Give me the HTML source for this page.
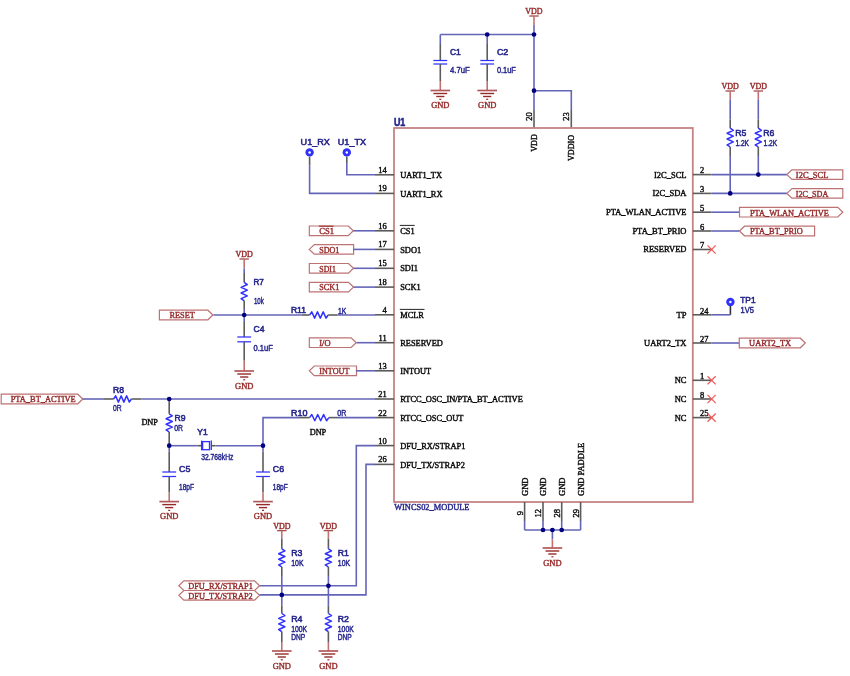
<!DOCTYPE html>
<html><head><meta charset="utf-8"><style>
html,body{margin:0;padding:0;background:#fff;width:850px;height:676px;overflow:hidden}
svg{display:block;will-change:transform}
</style></head><body>
<svg width="850" height="676" viewBox="0 0 850 676">
<rect width="850" height="676" fill="#ffffff"/>
<line x1="529.3" y1="16" x2="538.7" y2="16" stroke="#962a2a" stroke-width="1.1"/>
<text x="534" y="14.1" font-family='"Liberation Serif", serif' font-size="8.2" fill="#962a2a" stroke="#962a2a" stroke-width="0.4" text-anchor="middle" textLength="17.3" lengthAdjust="spacingAndGlyphs">VDD</text>
<line x1="534" y1="16" x2="534" y2="25" stroke="#c07272" stroke-width="1.6"/>
<line x1="534" y1="25" x2="534" y2="110" stroke="#6464b8" stroke-width="1.6"/>
<line x1="440.3" y1="34.5" x2="534" y2="34.5" stroke="#6464b8" stroke-width="1.6"/>
<line x1="440.3" y1="34.5" x2="440.3" y2="44" stroke="#6464b8" stroke-width="1.6"/>
<line x1="440.3" y1="44" x2="440.3" y2="60.5" stroke="#5c5c5c" stroke-width="1.6"/>
<line x1="433.4" y1="60.5" x2="447.2" y2="60.5" stroke="#3030ff" stroke-width="1.25"/>
<line x1="433.4" y1="64" x2="447.2" y2="64" stroke="#3030ff" stroke-width="1.25"/>
<line x1="440.3" y1="64" x2="440.3" y2="81" stroke="#5c5c5c" stroke-width="1.6"/>
<line x1="440.3" y1="81" x2="440.3" y2="90.5" stroke="#c07272" stroke-width="1.6"/>
<line x1="430.5" y1="90.5" x2="450.1" y2="90.5" stroke="#b35858" stroke-width="1.7"/>
<line x1="433.4" y1="93.5" x2="447.2" y2="93.5" stroke="#962a2a" stroke-width="1.4"/>
<line x1="436.2" y1="96.5" x2="444.4" y2="96.5" stroke="#962a2a" stroke-width="1.4"/>
<line x1="439.3" y1="99.3" x2="441.3" y2="99.3" stroke="#962a2a" stroke-width="1.2"/>
<text x="440.3" y="108" font-family='"Liberation Serif", serif' font-size="8.5" fill="#962a2a" stroke="#962a2a" stroke-width="0.4" text-anchor="middle" textLength="18.3" lengthAdjust="spacingAndGlyphs">GND</text>
<text x="450" y="54.9" font-family='"Liberation Sans", sans-serif' font-size="8.8" fill="#24248c" stroke="#24248c" stroke-width="0.55" textLength="10.8" lengthAdjust="spacingAndGlyphs">C1</text>
<text x="450" y="73.4" font-family='"Liberation Sans", sans-serif' font-size="8.3" fill="#24248c" stroke="#24248c" stroke-width="0.42" textLength="19.8" lengthAdjust="spacingAndGlyphs">4.7uF</text>
<line x1="487.2" y1="34.5" x2="487.2" y2="44" stroke="#6464b8" stroke-width="1.6"/>
<line x1="487.2" y1="44" x2="487.2" y2="60.5" stroke="#5c5c5c" stroke-width="1.6"/>
<line x1="480.3" y1="60.5" x2="494.1" y2="60.5" stroke="#3030ff" stroke-width="1.25"/>
<line x1="480.3" y1="64" x2="494.1" y2="64" stroke="#3030ff" stroke-width="1.25"/>
<line x1="487.2" y1="64" x2="487.2" y2="81" stroke="#5c5c5c" stroke-width="1.6"/>
<line x1="487.2" y1="81" x2="487.2" y2="90.5" stroke="#c07272" stroke-width="1.6"/>
<line x1="477.4" y1="90.5" x2="497" y2="90.5" stroke="#b35858" stroke-width="1.7"/>
<line x1="480.3" y1="93.5" x2="494.1" y2="93.5" stroke="#962a2a" stroke-width="1.4"/>
<line x1="483.1" y1="96.5" x2="491.3" y2="96.5" stroke="#962a2a" stroke-width="1.4"/>
<line x1="486.2" y1="99.3" x2="488.2" y2="99.3" stroke="#962a2a" stroke-width="1.2"/>
<text x="487.2" y="108" font-family='"Liberation Serif", serif' font-size="8.5" fill="#962a2a" stroke="#962a2a" stroke-width="0.4" text-anchor="middle" textLength="18.3" lengthAdjust="spacingAndGlyphs">GND</text>
<text x="496.9" y="54.9" font-family='"Liberation Sans", sans-serif' font-size="8.8" fill="#24248c" stroke="#24248c" stroke-width="0.55" textLength="11.4" lengthAdjust="spacingAndGlyphs">C2</text>
<text x="496.9" y="73.4" font-family='"Liberation Sans", sans-serif' font-size="8.3" fill="#24248c" stroke="#24248c" stroke-width="0.42" textLength="19" lengthAdjust="spacingAndGlyphs">0.1uF</text>
<polyline points="534,90.7 571.3,90.7 571.3,110" fill="none" stroke="#6464b8" stroke-width="1.6"/>
<line x1="534" y1="110" x2="534" y2="128" stroke="#5c5c5c" stroke-width="1.6"/>
<line x1="571.3" y1="110" x2="571.3" y2="128" stroke="#5c5c5c" stroke-width="1.6"/>
<text x="532" y="116.4" font-family='"Liberation Serif", serif' font-size="8.5" fill="#0a0a0a" stroke="#0a0a0a" stroke-width="0.4" text-anchor="middle" transform="rotate(-90 532 116.4)">20</text>
<text x="569.3" y="116.4" font-family='"Liberation Serif", serif' font-size="8.5" fill="#0a0a0a" stroke="#0a0a0a" stroke-width="0.4" text-anchor="middle" transform="rotate(-90 569.3 116.4)">23</text>
<text x="537" y="143" font-family='"Liberation Serif", serif' font-size="8.5" fill="#0a0a0a" stroke="#0a0a0a" stroke-width="0.4" text-anchor="middle" textLength="17.7" lengthAdjust="spacingAndGlyphs" transform="rotate(-90 537 143)">VDD</text>
<text x="574.3" y="148" font-family='"Liberation Serif", serif' font-size="8.5" fill="#0a0a0a" stroke="#0a0a0a" stroke-width="0.4" text-anchor="middle" textLength="26" lengthAdjust="spacingAndGlyphs" transform="rotate(-90 574.3 148)">VDDIO</text>
<rect x="394" y="128" width="298.8" height="374" fill="none" stroke="#c58484" stroke-width="1.8"/>
<text x="393.9" y="126" font-family='"Liberation Sans", sans-serif' font-size="10.5" fill="#24248c" stroke="#24248c" stroke-width="0.55" textLength="11.4" lengthAdjust="spacingAndGlyphs" font-weight="bold">U1</text>
<text x="394.2" y="509.7" font-family='"Liberation Serif", serif' font-size="8.5" fill="#24248c" stroke="#24248c" stroke-width="0.4" textLength="75.3" lengthAdjust="spacingAndGlyphs">WINCS02_MODULE</text>
<line x1="375" y1="174.8" x2="394" y2="174.8" stroke="#5c5c5c" stroke-width="1.6"/>
<text x="386.7" y="172.8" font-family='"Liberation Serif", serif' font-size="8.5" fill="#0a0a0a" stroke="#0a0a0a" stroke-width="0.4" text-anchor="end">14</text>
<text x="400.2" y="177.9" font-family='"Liberation Serif", serif' font-size="8.4" fill="#0a0a0a" stroke="#0a0a0a" stroke-width="0.4">UART1_TX</text>
<line x1="375" y1="193.4" x2="394" y2="193.4" stroke="#5c5c5c" stroke-width="1.6"/>
<text x="386.7" y="191.4" font-family='"Liberation Serif", serif' font-size="8.5" fill="#0a0a0a" stroke="#0a0a0a" stroke-width="0.4" text-anchor="end">19</text>
<text x="400.2" y="196.5" font-family='"Liberation Serif", serif' font-size="8.4" fill="#0a0a0a" stroke="#0a0a0a" stroke-width="0.4">UART1_RX</text>
<line x1="375" y1="230.8" x2="394" y2="230.8" stroke="#5c5c5c" stroke-width="1.6"/>
<text x="386.7" y="228.8" font-family='"Liberation Serif", serif' font-size="8.5" fill="#0a0a0a" stroke="#0a0a0a" stroke-width="0.4" text-anchor="end">16</text>
<text x="400.2" y="233.9" font-family='"Liberation Serif", serif' font-size="8.4" fill="#0a0a0a" stroke="#0a0a0a" stroke-width="0.4">CS1</text>
<line x1="399.8" y1="225.4" x2="414.7" y2="225.4" stroke="#0a0a0a" stroke-width="0.9"/>
<line x1="375" y1="249.4" x2="394" y2="249.4" stroke="#5c5c5c" stroke-width="1.6"/>
<text x="386.7" y="247.4" font-family='"Liberation Serif", serif' font-size="8.5" fill="#0a0a0a" stroke="#0a0a0a" stroke-width="0.4" text-anchor="end">17</text>
<text x="400.2" y="252.5" font-family='"Liberation Serif", serif' font-size="8.4" fill="#0a0a0a" stroke="#0a0a0a" stroke-width="0.4">SDO1</text>
<line x1="375" y1="268.3" x2="394" y2="268.3" stroke="#5c5c5c" stroke-width="1.6"/>
<text x="386.7" y="266.3" font-family='"Liberation Serif", serif' font-size="8.5" fill="#0a0a0a" stroke="#0a0a0a" stroke-width="0.4" text-anchor="end">15</text>
<text x="400.2" y="271.4" font-family='"Liberation Serif", serif' font-size="8.4" fill="#0a0a0a" stroke="#0a0a0a" stroke-width="0.4">SDI1</text>
<line x1="375" y1="287.1" x2="394" y2="287.1" stroke="#5c5c5c" stroke-width="1.6"/>
<text x="386.7" y="285.1" font-family='"Liberation Serif", serif' font-size="8.5" fill="#0a0a0a" stroke="#0a0a0a" stroke-width="0.4" text-anchor="end">18</text>
<text x="400.2" y="290.2" font-family='"Liberation Serif", serif' font-size="8.4" fill="#0a0a0a" stroke="#0a0a0a" stroke-width="0.4">SCK1</text>
<line x1="375" y1="314.8" x2="394" y2="314.8" stroke="#5c5c5c" stroke-width="1.6"/>
<text x="386.7" y="312.8" font-family='"Liberation Serif", serif' font-size="8.5" fill="#0a0a0a" stroke="#0a0a0a" stroke-width="0.4" text-anchor="end">4</text>
<text x="400.2" y="317.9" font-family='"Liberation Serif", serif' font-size="8.4" fill="#0a0a0a" stroke="#0a0a0a" stroke-width="0.4">MCLR</text>
<line x1="399.8" y1="309.4" x2="424.5" y2="309.4" stroke="#0a0a0a" stroke-width="0.9"/>
<line x1="375" y1="342.7" x2="394" y2="342.7" stroke="#5c5c5c" stroke-width="1.6"/>
<text x="386.7" y="340.7" font-family='"Liberation Serif", serif' font-size="8.5" fill="#0a0a0a" stroke="#0a0a0a" stroke-width="0.4" text-anchor="end">11</text>
<text x="400.2" y="345.8" font-family='"Liberation Serif", serif' font-size="8.4" fill="#0a0a0a" stroke="#0a0a0a" stroke-width="0.4">RESERVED</text>
<line x1="375" y1="370.8" x2="394" y2="370.8" stroke="#5c5c5c" stroke-width="1.6"/>
<text x="386.7" y="368.8" font-family='"Liberation Serif", serif' font-size="8.5" fill="#0a0a0a" stroke="#0a0a0a" stroke-width="0.4" text-anchor="end">13</text>
<text x="400.2" y="373.9" font-family='"Liberation Serif", serif' font-size="8.4" fill="#0a0a0a" stroke="#0a0a0a" stroke-width="0.4">INTOUT</text>
<line x1="375" y1="399" x2="394" y2="399" stroke="#5c5c5c" stroke-width="1.6"/>
<text x="386.7" y="397" font-family='"Liberation Serif", serif' font-size="8.5" fill="#0a0a0a" stroke="#0a0a0a" stroke-width="0.4" text-anchor="end">21</text>
<text x="400.2" y="402.1" font-family='"Liberation Serif", serif' font-size="8.4" fill="#0a0a0a" stroke="#0a0a0a" stroke-width="0.4" textLength="122.6" lengthAdjust="spacingAndGlyphs">RTCC_OSC_IN/PTA_BT_ACTIVE</text>
<line x1="375" y1="417.6" x2="394" y2="417.6" stroke="#5c5c5c" stroke-width="1.6"/>
<text x="386.7" y="415.6" font-family='"Liberation Serif", serif' font-size="8.5" fill="#0a0a0a" stroke="#0a0a0a" stroke-width="0.4" text-anchor="end">22</text>
<text x="400.2" y="420.7" font-family='"Liberation Serif", serif' font-size="8.4" fill="#0a0a0a" stroke="#0a0a0a" stroke-width="0.4">RTCC_OSC_OUT</text>
<line x1="375" y1="445.6" x2="394" y2="445.6" stroke="#5c5c5c" stroke-width="1.6"/>
<text x="386.7" y="443.6" font-family='"Liberation Serif", serif' font-size="8.5" fill="#0a0a0a" stroke="#0a0a0a" stroke-width="0.4" text-anchor="end">10</text>
<text x="400.2" y="448.7" font-family='"Liberation Serif", serif' font-size="8.4" fill="#0a0a0a" stroke="#0a0a0a" stroke-width="0.4">DFU_RX/STRAP1</text>
<line x1="375" y1="464.4" x2="394" y2="464.4" stroke="#5c5c5c" stroke-width="1.6"/>
<text x="386.7" y="462.4" font-family='"Liberation Serif", serif' font-size="8.5" fill="#0a0a0a" stroke="#0a0a0a" stroke-width="0.4" text-anchor="end">26</text>
<text x="400.2" y="467.5" font-family='"Liberation Serif", serif' font-size="8.4" fill="#0a0a0a" stroke="#0a0a0a" stroke-width="0.4">DFU_TX/STRAP2</text>
<line x1="692.8" y1="174.6" x2="711.6" y2="174.6" stroke="#5c5c5c" stroke-width="1.6"/>
<text x="700" y="173.3" font-family='"Liberation Serif", serif' font-size="8.5" fill="#0a0a0a" stroke="#0a0a0a" stroke-width="0.4">2</text>
<text x="686.5" y="177.5" font-family='"Liberation Serif", serif' font-size="8.5" fill="#0a0a0a" stroke="#0a0a0a" stroke-width="0.4" text-anchor="end">I2C_SCL</text>
<line x1="692.8" y1="193.4" x2="711.6" y2="193.4" stroke="#5c5c5c" stroke-width="1.6"/>
<text x="700" y="192.1" font-family='"Liberation Serif", serif' font-size="8.5" fill="#0a0a0a" stroke="#0a0a0a" stroke-width="0.4">3</text>
<text x="686.5" y="196.3" font-family='"Liberation Serif", serif' font-size="8.5" fill="#0a0a0a" stroke="#0a0a0a" stroke-width="0.4" text-anchor="end">I2C_SDA</text>
<line x1="692.8" y1="212.2" x2="711.6" y2="212.2" stroke="#5c5c5c" stroke-width="1.6"/>
<text x="700" y="210.9" font-family='"Liberation Serif", serif' font-size="8.5" fill="#0a0a0a" stroke="#0a0a0a" stroke-width="0.4">5</text>
<text x="686.5" y="215.1" font-family='"Liberation Serif", serif' font-size="8.5" fill="#0a0a0a" stroke="#0a0a0a" stroke-width="0.4" text-anchor="end">PTA_WLAN_ACTIVE</text>
<line x1="692.8" y1="231" x2="711.6" y2="231" stroke="#5c5c5c" stroke-width="1.6"/>
<text x="700" y="229.7" font-family='"Liberation Serif", serif' font-size="8.5" fill="#0a0a0a" stroke="#0a0a0a" stroke-width="0.4">6</text>
<text x="686.5" y="233.9" font-family='"Liberation Serif", serif' font-size="8.5" fill="#0a0a0a" stroke="#0a0a0a" stroke-width="0.4" text-anchor="end">PTA_BT_PRIO</text>
<line x1="692.8" y1="249.5" x2="711.6" y2="249.5" stroke="#5c5c5c" stroke-width="1.6"/>
<text x="700" y="248.2" font-family='"Liberation Serif", serif' font-size="8.5" fill="#0a0a0a" stroke="#0a0a0a" stroke-width="0.4">7</text>
<text x="686.5" y="252.4" font-family='"Liberation Serif", serif' font-size="8.5" fill="#0a0a0a" stroke="#0a0a0a" stroke-width="0.4" text-anchor="end">RESERVED</text>
<line x1="692.8" y1="314.8" x2="711.6" y2="314.8" stroke="#5c5c5c" stroke-width="1.6"/>
<text x="700" y="313.5" font-family='"Liberation Serif", serif' font-size="8.5" fill="#0a0a0a" stroke="#0a0a0a" stroke-width="0.4">24</text>
<text x="686.5" y="317.7" font-family='"Liberation Serif", serif' font-size="8.5" fill="#0a0a0a" stroke="#0a0a0a" stroke-width="0.4" text-anchor="end">TP</text>
<line x1="692.8" y1="343" x2="711.6" y2="343" stroke="#5c5c5c" stroke-width="1.6"/>
<text x="700" y="341.7" font-family='"Liberation Serif", serif' font-size="8.5" fill="#0a0a0a" stroke="#0a0a0a" stroke-width="0.4">27</text>
<text x="686.5" y="345.9" font-family='"Liberation Serif", serif' font-size="8.5" fill="#0a0a0a" stroke="#0a0a0a" stroke-width="0.4" text-anchor="end">UART2_TX</text>
<line x1="692.8" y1="380.3" x2="711.6" y2="380.3" stroke="#5c5c5c" stroke-width="1.6"/>
<text x="700" y="379" font-family='"Liberation Serif", serif' font-size="8.5" fill="#0a0a0a" stroke="#0a0a0a" stroke-width="0.4">1</text>
<text x="686.5" y="383.2" font-family='"Liberation Serif", serif' font-size="8.5" fill="#0a0a0a" stroke="#0a0a0a" stroke-width="0.4" text-anchor="end">NC</text>
<line x1="692.8" y1="399" x2="711.6" y2="399" stroke="#5c5c5c" stroke-width="1.6"/>
<text x="700" y="397.7" font-family='"Liberation Serif", serif' font-size="8.5" fill="#0a0a0a" stroke="#0a0a0a" stroke-width="0.4">8</text>
<text x="686.5" y="401.9" font-family='"Liberation Serif", serif' font-size="8.5" fill="#0a0a0a" stroke="#0a0a0a" stroke-width="0.4" text-anchor="end">NC</text>
<line x1="692.8" y1="417.6" x2="711.6" y2="417.6" stroke="#5c5c5c" stroke-width="1.6"/>
<text x="700" y="416.3" font-family='"Liberation Serif", serif' font-size="8.5" fill="#0a0a0a" stroke="#0a0a0a" stroke-width="0.4">25</text>
<text x="686.5" y="420.5" font-family='"Liberation Serif", serif' font-size="8.5" fill="#0a0a0a" stroke="#0a0a0a" stroke-width="0.4" text-anchor="end">NC</text>
<line x1="707.5" y1="245.4" x2="715.7" y2="253.6" stroke="#f25a5a" stroke-width="1.3"/>
<line x1="707.5" y1="253.6" x2="715.7" y2="245.4" stroke="#f25a5a" stroke-width="1.3"/>
<line x1="707.5" y1="376.2" x2="715.7" y2="384.4" stroke="#f25a5a" stroke-width="1.3"/>
<line x1="707.5" y1="384.4" x2="715.7" y2="376.2" stroke="#f25a5a" stroke-width="1.3"/>
<line x1="707.5" y1="394.9" x2="715.7" y2="403.1" stroke="#f25a5a" stroke-width="1.3"/>
<line x1="707.5" y1="403.1" x2="715.7" y2="394.9" stroke="#f25a5a" stroke-width="1.3"/>
<line x1="707.5" y1="413.5" x2="715.7" y2="421.7" stroke="#f25a5a" stroke-width="1.3"/>
<line x1="707.5" y1="421.7" x2="715.7" y2="413.5" stroke="#f25a5a" stroke-width="1.3"/>
<line x1="524.6" y1="502" x2="524.6" y2="521" stroke="#5c5c5c" stroke-width="1.6"/>
<line x1="524.6" y1="521" x2="524.6" y2="530" stroke="#6464b8" stroke-width="1.6"/>
<text x="522.6" y="513.2" font-family='"Liberation Serif", serif' font-size="8.5" fill="#0a0a0a" stroke="#0a0a0a" stroke-width="0.4" text-anchor="middle" transform="rotate(-90 522.6 513.2)">9</text>
<text x="527.6" y="496" font-family='"Liberation Serif", serif' font-size="8.5" fill="#0a0a0a" stroke="#0a0a0a" stroke-width="0.4" transform="rotate(-90 527.6 496)">GND</text>
<line x1="543" y1="502" x2="543" y2="521" stroke="#5c5c5c" stroke-width="1.6"/>
<line x1="543" y1="521" x2="543" y2="530" stroke="#6464b8" stroke-width="1.6"/>
<text x="541" y="513.2" font-family='"Liberation Serif", serif' font-size="8.5" fill="#0a0a0a" stroke="#0a0a0a" stroke-width="0.4" text-anchor="middle" transform="rotate(-90 541 513.2)">12</text>
<text x="546" y="496" font-family='"Liberation Serif", serif' font-size="8.5" fill="#0a0a0a" stroke="#0a0a0a" stroke-width="0.4" transform="rotate(-90 546 496)">GND</text>
<line x1="561.7" y1="502" x2="561.7" y2="521" stroke="#5c5c5c" stroke-width="1.6"/>
<line x1="561.7" y1="521" x2="561.7" y2="530" stroke="#6464b8" stroke-width="1.6"/>
<text x="559.7" y="513.2" font-family='"Liberation Serif", serif' font-size="8.5" fill="#0a0a0a" stroke="#0a0a0a" stroke-width="0.4" text-anchor="middle" transform="rotate(-90 559.7 513.2)">28</text>
<text x="564.7" y="496" font-family='"Liberation Serif", serif' font-size="8.5" fill="#0a0a0a" stroke="#0a0a0a" stroke-width="0.4" transform="rotate(-90 564.7 496)">GND</text>
<line x1="580.6" y1="502" x2="580.6" y2="521" stroke="#5c5c5c" stroke-width="1.6"/>
<line x1="580.6" y1="521" x2="580.6" y2="530" stroke="#6464b8" stroke-width="1.6"/>
<text x="578.6" y="513.2" font-family='"Liberation Serif", serif' font-size="8.5" fill="#0a0a0a" stroke="#0a0a0a" stroke-width="0.4" text-anchor="middle" transform="rotate(-90 578.6 513.2)">29</text>
<text x="583.6" y="496" font-family='"Liberation Serif", serif' font-size="8.5" fill="#0a0a0a" stroke="#0a0a0a" stroke-width="0.4" transform="rotate(-90 583.6 496)">GND PADDLE</text>
<line x1="524.6" y1="530" x2="580.6" y2="530" stroke="#6464b8" stroke-width="1.6"/>
<line x1="552.4" y1="530" x2="552.4" y2="539.4" stroke="#6464b8" stroke-width="1.6"/>
<line x1="552.4" y1="539.4" x2="552.4" y2="548" stroke="#c07272" stroke-width="1.6"/>
<line x1="542.6" y1="548" x2="562.2" y2="548" stroke="#b35858" stroke-width="1.7"/>
<line x1="545.5" y1="551" x2="559.3" y2="551" stroke="#962a2a" stroke-width="1.4"/>
<line x1="548.3" y1="554" x2="556.5" y2="554" stroke="#962a2a" stroke-width="1.4"/>
<line x1="551.4" y1="556.8" x2="553.4" y2="556.8" stroke="#962a2a" stroke-width="1.2"/>
<text x="552.4" y="565.5" font-family='"Liberation Serif", serif' font-size="8.5" fill="#962a2a" stroke="#962a2a" stroke-width="0.4" text-anchor="middle" textLength="18.3" lengthAdjust="spacingAndGlyphs">GND</text>
<circle cx="309.6" cy="152.4" r="4.2" fill="#3030ff"/><circle cx="309.6" cy="152.4" r="1.25" fill="#fff"/>
<circle cx="346.8" cy="152.4" r="4.2" fill="#3030ff"/><circle cx="346.8" cy="152.4" r="1.25" fill="#fff"/>
<text x="300.6" y="145" font-family='"Liberation Sans", sans-serif' font-size="9" fill="#24248c" stroke="#24248c" stroke-width="0.55" textLength="29.2" lengthAdjust="spacingAndGlyphs">U1_RX</text>
<text x="337.8" y="145" font-family='"Liberation Sans", sans-serif' font-size="9" fill="#24248c" stroke="#24248c" stroke-width="0.55" textLength="28.3" lengthAdjust="spacingAndGlyphs">U1_TX</text>
<line x1="309.6" y1="156.6" x2="309.6" y2="165.3" stroke="#5c5c5c" stroke-width="1.6"/>
<polyline points="309.6,165.3 309.6,193.4 375,193.4" fill="none" stroke="#6464b8" stroke-width="1.6"/>
<line x1="346.8" y1="156.6" x2="346.8" y2="163" stroke="#5c5c5c" stroke-width="1.6"/>
<polyline points="346.8,163 346.8,174.8 375,174.8" fill="none" stroke="#6464b8" stroke-width="1.6"/>
<polygon points="309.3,226 348.3,226 353.3,230.8 348.3,235.6 309.3,235.6" fill="white" stroke="#bd7373" stroke-width="1.2"/>
<text x="319.3" y="234.1" font-family='"Liberation Serif", serif' font-size="8.9" fill="#962a2a" stroke="#962a2a" stroke-width="0.4" textLength="14.8" lengthAdjust="spacingAndGlyphs">CS1</text>
<line x1="318.9" y1="226.2" x2="333.5" y2="226.2" stroke="#962a2a" stroke-width="1.1"/>
<polygon points="314.3,244.6 353.6,244.6 353.6,254.2 314.3,254.2 309.3,249.4" fill="white" stroke="#bd7373" stroke-width="1.2"/>
<text x="319.3" y="252.7" font-family='"Liberation Serif", serif' font-size="8.9" fill="#962a2a" stroke="#962a2a" stroke-width="0.4" textLength="20.1" lengthAdjust="spacingAndGlyphs">SDO1</text>
<polygon points="309.3,263.5 348.5,263.5 353.5,268.3 348.5,273.1 309.3,273.1" fill="white" stroke="#bd7373" stroke-width="1.2"/>
<text x="319.3" y="271.6" font-family='"Liberation Serif", serif' font-size="8.9" fill="#962a2a" stroke="#962a2a" stroke-width="0.4" textLength="16.6" lengthAdjust="spacingAndGlyphs">SDI1</text>
<polygon points="309.3,282.3 348.5,282.3 353.5,287.1 348.5,291.9 309.3,291.9" fill="white" stroke="#bd7373" stroke-width="1.2"/>
<text x="319.3" y="290.4" font-family='"Liberation Serif", serif' font-size="8.9" fill="#962a2a" stroke="#962a2a" stroke-width="0.4" textLength="20.1" lengthAdjust="spacingAndGlyphs">SCK1</text>
<polygon points="309.3,337.9 351.2,337.9 356.2,342.7 351.2,347.5 309.3,347.5" fill="white" stroke="#bd7373" stroke-width="1.2"/>
<text x="319.3" y="346" font-family='"Liberation Serif", serif' font-size="8.9" fill="#962a2a" stroke="#962a2a" stroke-width="0.4" textLength="11.3" lengthAdjust="spacingAndGlyphs">I/O</text>
<polygon points="314.3,366 356.5,366 356.5,375.6 314.3,375.6 309.3,370.8" fill="white" stroke="#bd7373" stroke-width="1.2"/>
<text x="319.3" y="374.1" font-family='"Liberation Serif", serif' font-size="8.9" fill="#962a2a" stroke="#962a2a" stroke-width="0.4" textLength="30.1" lengthAdjust="spacingAndGlyphs">INTOUT</text>
<line x1="353.3" y1="230.8" x2="375" y2="230.8" stroke="#6464b8" stroke-width="1.6"/>
<line x1="353.3" y1="249.4" x2="375" y2="249.4" stroke="#6464b8" stroke-width="1.6"/>
<line x1="353.5" y1="268.3" x2="375" y2="268.3" stroke="#6464b8" stroke-width="1.6"/>
<line x1="353.5" y1="287.1" x2="375" y2="287.1" stroke="#6464b8" stroke-width="1.6"/>
<line x1="356.6" y1="342.7" x2="375" y2="342.7" stroke="#6464b8" stroke-width="1.6"/>
<line x1="356" y1="370.8" x2="375" y2="370.8" stroke="#6464b8" stroke-width="1.6"/>
<line x1="239.5" y1="259" x2="248.9" y2="259" stroke="#962a2a" stroke-width="1.1"/>
<text x="244.2" y="257.1" font-family='"Liberation Serif", serif' font-size="8.2" fill="#962a2a" stroke="#962a2a" stroke-width="0.4" text-anchor="middle" textLength="17.3" lengthAdjust="spacingAndGlyphs">VDD</text>
<line x1="244.2" y1="259" x2="244.2" y2="268.4" stroke="#c07272" stroke-width="1.6"/>
<line x1="244.2" y1="268.4" x2="244.2" y2="273" stroke="#6464b8" stroke-width="1.6"/>
<line x1="244.2" y1="273" x2="244.2" y2="282.4" stroke="#5c5c5c" stroke-width="1.6"/>
<polyline points="244.2,282.4 247.3,284.52 241.1,287.35 247.3,290.18 241.1,293.02 247.3,295.85 241.1,298.68 244.2,300.8" fill="none" stroke="#3030ff" stroke-width="1.5" stroke-linejoin="round"/>
<line x1="244.2" y1="300.8" x2="244.2" y2="309" stroke="#5c5c5c" stroke-width="1.6"/>
<line x1="244.2" y1="309" x2="244.2" y2="322" stroke="#6464b8" stroke-width="1.6"/>
<line x1="244.2" y1="322" x2="244.2" y2="337" stroke="#5c5c5c" stroke-width="1.6"/>
<line x1="237.3" y1="337" x2="251.1" y2="337" stroke="#3030ff" stroke-width="1.25"/>
<line x1="237.3" y1="341.8" x2="251.1" y2="341.8" stroke="#3030ff" stroke-width="1.25"/>
<line x1="244.2" y1="341.8" x2="244.2" y2="360.7" stroke="#5c5c5c" stroke-width="1.6"/>
<line x1="244.2" y1="360.7" x2="244.2" y2="371" stroke="#c07272" stroke-width="1.6"/>
<line x1="234.4" y1="371" x2="254" y2="371" stroke="#b35858" stroke-width="1.7"/>
<line x1="237.3" y1="374" x2="251.1" y2="374" stroke="#962a2a" stroke-width="1.4"/>
<line x1="240.1" y1="377" x2="248.3" y2="377" stroke="#962a2a" stroke-width="1.4"/>
<line x1="243.2" y1="379.8" x2="245.2" y2="379.8" stroke="#962a2a" stroke-width="1.2"/>
<text x="244.2" y="388.5" font-family='"Liberation Serif", serif' font-size="8.5" fill="#962a2a" stroke="#962a2a" stroke-width="0.4" text-anchor="middle" textLength="18.3" lengthAdjust="spacingAndGlyphs">GND</text>
<text x="253.5" y="285.1" font-family='"Liberation Sans", sans-serif' font-size="8.8" fill="#24248c" stroke="#24248c" stroke-width="0.55" textLength="10.4" lengthAdjust="spacingAndGlyphs">R7</text>
<text x="253.9" y="304" font-family='"Liberation Sans", sans-serif' font-size="8.3" fill="#24248c" stroke="#24248c" stroke-width="0.42" textLength="10" lengthAdjust="spacingAndGlyphs">10k</text>
<text x="253.5" y="331.8" font-family='"Liberation Sans", sans-serif' font-size="8.8" fill="#24248c" stroke="#24248c" stroke-width="0.55" textLength="11" lengthAdjust="spacingAndGlyphs">C4</text>
<text x="253.5" y="350.7" font-family='"Liberation Sans", sans-serif' font-size="8.3" fill="#24248c" stroke="#24248c" stroke-width="0.42" textLength="19.3" lengthAdjust="spacingAndGlyphs">0.1uF</text>
<polygon points="159.4,310.2 207.9,310.2 212.9,315 207.9,319.8 159.4,319.8" fill="white" stroke="#bd7373" stroke-width="1.2"/>
<text x="169.4" y="318.3" font-family='"Liberation Serif", serif' font-size="8.9" fill="#962a2a" stroke="#962a2a" stroke-width="0.4" textLength="25.4" lengthAdjust="spacingAndGlyphs">RESET</text>
<line x1="213.4" y1="315" x2="301.5" y2="315" stroke="#6464b8" stroke-width="1.6"/>
<line x1="301.5" y1="315" x2="309.6" y2="315" stroke="#5c5c5c" stroke-width="1.6"/>
<polyline points="309.6,315 311.75,311.9 314.61,318.1 317.47,311.9 320.33,318.1 323.19,311.9 326.05,318.1 328.2,315" fill="none" stroke="#3030ff" stroke-width="1.5" stroke-linejoin="round"/>
<line x1="328.2" y1="315" x2="337" y2="315" stroke="#5c5c5c" stroke-width="1.6"/>
<line x1="337" y1="315" x2="375" y2="315" stroke="#6464b8" stroke-width="1.6"/>
<text x="290.9" y="313" font-family='"Liberation Sans", sans-serif' font-size="8.8" fill="#24248c" stroke="#24248c" stroke-width="0.55" textLength="15.1" lengthAdjust="spacingAndGlyphs">R11</text>
<text x="338.1" y="313.6" font-family='"Liberation Sans", sans-serif' font-size="8.3" fill="#24248c" stroke="#24248c" stroke-width="0.42" textLength="8.3" lengthAdjust="spacingAndGlyphs">1K</text>
<polygon points="1.2,394.2 77.8,394.2 82.8,399 77.8,403.8 1.2,403.8" fill="white" stroke="#bd7373" stroke-width="1.2"/>
<text x="10.7" y="402.3" font-family='"Liberation Serif", serif' font-size="8.9" fill="#962a2a" stroke="#962a2a" stroke-width="0.4" textLength="65" lengthAdjust="spacingAndGlyphs">PTA_BT_ACTIVE</text>
<line x1="82.8" y1="399" x2="104" y2="399" stroke="#6464b8" stroke-width="1.6"/>
<line x1="104" y1="399" x2="113.6" y2="399" stroke="#5c5c5c" stroke-width="1.6"/>
<polyline points="113.6,399 115.65,395.9 118.39,402.1 121.13,395.9 123.87,402.1 126.61,395.9 129.35,402.1 131.4,399" fill="none" stroke="#3030ff" stroke-width="1.5" stroke-linejoin="round"/>
<line x1="131.4" y1="399" x2="141.5" y2="399" stroke="#5c5c5c" stroke-width="1.6"/>
<line x1="141.5" y1="399" x2="375" y2="399" stroke="#6464b8" stroke-width="1.6"/>
<text x="113" y="392.6" font-family='"Liberation Sans", sans-serif' font-size="8.8" fill="#24248c" stroke="#24248c" stroke-width="0.55" textLength="11.1" lengthAdjust="spacingAndGlyphs">R8</text>
<text x="112.9" y="411.3" font-family='"Liberation Sans", sans-serif' font-size="8.3" fill="#24248c" stroke="#24248c" stroke-width="0.42" textLength="8.6" lengthAdjust="spacingAndGlyphs">0R</text>
<line x1="169.2" y1="399" x2="169.2" y2="413.8" stroke="#5c5c5c" stroke-width="1.6"/>
<polyline points="169.2,413.8 172.3,415.9 166.1,418.7 172.3,421.5 166.1,424.3 172.3,427.1 166.1,429.9 169.2,432" fill="none" stroke="#3030ff" stroke-width="1.5" stroke-linejoin="round"/>
<line x1="169.2" y1="432" x2="169.2" y2="445.7" stroke="#5c5c5c" stroke-width="1.6"/>
<text x="174.5" y="420.9" font-family='"Liberation Sans", sans-serif' font-size="8.8" fill="#24248c" stroke="#24248c" stroke-width="0.55" textLength="11" lengthAdjust="spacingAndGlyphs">R9</text>
<text x="174.2" y="430.8" font-family='"Liberation Sans", sans-serif' font-size="8.3" fill="#24248c" stroke="#24248c" stroke-width="0.42" textLength="8.8" lengthAdjust="spacingAndGlyphs">0R</text>
<text x="141.4" y="424.9" font-family='"Liberation Serif", serif' font-size="8.5" fill="#0a0a0a" stroke="#0a0a0a" stroke-width="0.4" textLength="16.5" lengthAdjust="spacingAndGlyphs">DNP</text>
<line x1="169.2" y1="445.7" x2="197.7" y2="445.7" stroke="#6464b8" stroke-width="1.6"/>
<line x1="197.7" y1="445.7" x2="201.8" y2="445.7" stroke="#5c5c5c" stroke-width="1.6"/>
<line x1="201.6" y1="440.6" x2="201.6" y2="450.3" stroke="#3030ff" stroke-width="1.3"/>
<line x1="211.3" y1="440.6" x2="211.3" y2="450.1" stroke="#3030ff" stroke-width="1.3"/>
<rect x="202.6" y="441.6" width="6.9" height="8.1" fill="none" stroke="#3030ff" stroke-width="1.3"/>
<line x1="212" y1="445.7" x2="215.4" y2="445.7" stroke="#5c5c5c" stroke-width="1.6"/>
<line x1="215.4" y1="445.7" x2="263" y2="445.7" stroke="#6464b8" stroke-width="1.6"/>
<text x="197.3" y="434.8" font-family='"Liberation Sans", sans-serif' font-size="8.8" fill="#24248c" stroke="#24248c" stroke-width="0.55" textLength="10.3" lengthAdjust="spacingAndGlyphs">Y1</text>
<text x="201.2" y="460.3" font-family='"Liberation Sans", sans-serif' font-size="8.3" fill="#24248c" stroke="#24248c" stroke-width="0.42" textLength="32.2" lengthAdjust="spacingAndGlyphs">32.768kHz</text>
<line x1="169.2" y1="445.7" x2="169.2" y2="451.7" stroke="#6464b8" stroke-width="1.6"/>
<line x1="169.2" y1="451.7" x2="169.2" y2="472" stroke="#5c5c5c" stroke-width="1.6"/>
<line x1="162.3" y1="472" x2="176.1" y2="472" stroke="#3030ff" stroke-width="1.25"/>
<line x1="162.3" y1="476.5" x2="176.1" y2="476.5" stroke="#3030ff" stroke-width="1.25"/>
<line x1="169.2" y1="476.5" x2="169.2" y2="492.6" stroke="#5c5c5c" stroke-width="1.6"/>
<line x1="169.2" y1="492.6" x2="169.2" y2="501.6" stroke="#c07272" stroke-width="1.6"/>
<line x1="159.4" y1="501.6" x2="179" y2="501.6" stroke="#b35858" stroke-width="1.7"/>
<line x1="162.3" y1="504.6" x2="176.1" y2="504.6" stroke="#962a2a" stroke-width="1.4"/>
<line x1="165.1" y1="507.6" x2="173.3" y2="507.6" stroke="#962a2a" stroke-width="1.4"/>
<line x1="168.2" y1="510.4" x2="170.2" y2="510.4" stroke="#962a2a" stroke-width="1.2"/>
<text x="169.2" y="519.1" font-family='"Liberation Serif", serif' font-size="8.5" fill="#962a2a" stroke="#962a2a" stroke-width="0.4" text-anchor="middle" textLength="18.3" lengthAdjust="spacingAndGlyphs">GND</text>
<text x="179" y="472.3" font-family='"Liberation Sans", sans-serif' font-size="8.8" fill="#24248c" stroke="#24248c" stroke-width="0.55" textLength="11.3" lengthAdjust="spacingAndGlyphs">C5</text>
<text x="179" y="489.8" font-family='"Liberation Sans", sans-serif' font-size="8.3" fill="#24248c" stroke="#24248c" stroke-width="0.42" textLength="14.9" lengthAdjust="spacingAndGlyphs">18pF</text>
<line x1="263" y1="445.7" x2="263" y2="451.7" stroke="#6464b8" stroke-width="1.6"/>
<line x1="263" y1="451.7" x2="263" y2="472" stroke="#5c5c5c" stroke-width="1.6"/>
<line x1="256.1" y1="472" x2="269.9" y2="472" stroke="#3030ff" stroke-width="1.25"/>
<line x1="256.1" y1="476.5" x2="269.9" y2="476.5" stroke="#3030ff" stroke-width="1.25"/>
<line x1="263" y1="476.5" x2="263" y2="492.6" stroke="#5c5c5c" stroke-width="1.6"/>
<line x1="263" y1="492.6" x2="263" y2="501.6" stroke="#c07272" stroke-width="1.6"/>
<line x1="253.2" y1="501.6" x2="272.8" y2="501.6" stroke="#b35858" stroke-width="1.7"/>
<line x1="256.1" y1="504.6" x2="269.9" y2="504.6" stroke="#962a2a" stroke-width="1.4"/>
<line x1="258.9" y1="507.6" x2="267.1" y2="507.6" stroke="#962a2a" stroke-width="1.4"/>
<line x1="262" y1="510.4" x2="264" y2="510.4" stroke="#962a2a" stroke-width="1.2"/>
<text x="263" y="519.1" font-family='"Liberation Serif", serif' font-size="8.5" fill="#962a2a" stroke="#962a2a" stroke-width="0.4" text-anchor="middle" textLength="18.3" lengthAdjust="spacingAndGlyphs">GND</text>
<text x="272.8" y="472.3" font-family='"Liberation Sans", sans-serif' font-size="8.8" fill="#24248c" stroke="#24248c" stroke-width="0.55" textLength="11.3" lengthAdjust="spacingAndGlyphs">C6</text>
<text x="272.8" y="489.8" font-family='"Liberation Sans", sans-serif' font-size="8.3" fill="#24248c" stroke="#24248c" stroke-width="0.42" textLength="14.9" lengthAdjust="spacingAndGlyphs">18pF</text>
<polyline points="263,445.7 263,417.6 300,417.6" fill="none" stroke="#6464b8" stroke-width="1.6"/>
<line x1="300" y1="417.6" x2="309.6" y2="417.6" stroke="#5c5c5c" stroke-width="1.6"/>
<polyline points="309.6,417.6 311.82,414.5 314.77,420.7 317.72,414.5 320.68,420.7 323.63,414.5 326.58,420.7 328.8,417.6" fill="none" stroke="#3030ff" stroke-width="1.5" stroke-linejoin="round"/>
<line x1="328.8" y1="417.6" x2="338" y2="417.6" stroke="#5c5c5c" stroke-width="1.6"/>
<line x1="338" y1="417.6" x2="375" y2="417.6" stroke="#6464b8" stroke-width="1.6"/>
<text x="290.9" y="415.6" font-family='"Liberation Sans", sans-serif' font-size="8.8" fill="#24248c" stroke="#24248c" stroke-width="0.55" textLength="16.5" lengthAdjust="spacingAndGlyphs">R10</text>
<text x="337.3" y="416" font-family='"Liberation Sans", sans-serif' font-size="8.3" fill="#24248c" stroke="#24248c" stroke-width="0.42" textLength="9.1" lengthAdjust="spacingAndGlyphs">0R</text>
<text x="309.7" y="434.6" font-family='"Liberation Serif", serif' font-size="8.5" fill="#0a0a0a" stroke="#0a0a0a" stroke-width="0.4" textLength="16.5" lengthAdjust="spacingAndGlyphs">DNP</text>
<polyline points="375,445.6 356.3,445.6 356.3,585.8 259.3,585.8" fill="none" stroke="#6464b8" stroke-width="1.6"/>
<polyline points="375,464.4 366,464.4 366,594.9 259.3,594.9" fill="none" stroke="#6464b8" stroke-width="1.6"/>
<polygon points="183.8,580.9 254.6,580.9 259.6,585.7 254.6,590.5 183.8,590.5 178.8,585.7" fill="white" stroke="#bd7373" stroke-width="1.2"/>
<text x="188.2" y="589" font-family='"Liberation Serif", serif' font-size="8.9" fill="#962a2a" stroke="#962a2a" stroke-width="0.4" textLength="64.6" lengthAdjust="spacingAndGlyphs">DFU_RX/STRAP1</text>
<polygon points="183.8,590.5 254.6,590.5 259.6,595.3 254.6,600.1 183.8,600.1 178.8,595.3" fill="white" stroke="#bd7373" stroke-width="1.2"/>
<text x="188.2" y="598.6" font-family='"Liberation Serif", serif' font-size="8.9" fill="#962a2a" stroke="#962a2a" stroke-width="0.4" textLength="64.6" lengthAdjust="spacingAndGlyphs">DFU_TX/STRAP2</text>
<line x1="277.1" y1="530.7" x2="286.5" y2="530.7" stroke="#962a2a" stroke-width="1.1"/>
<text x="281.8" y="528.8" font-family='"Liberation Serif", serif' font-size="8.2" fill="#962a2a" stroke="#962a2a" stroke-width="0.4" text-anchor="middle" textLength="17.3" lengthAdjust="spacingAndGlyphs">VDD</text>
<line x1="281.8" y1="530.7" x2="281.8" y2="538.5" stroke="#c07272" stroke-width="1.6"/>
<line x1="281.8" y1="538.5" x2="281.8" y2="548.8" stroke="#5c5c5c" stroke-width="1.6"/>
<polyline points="281.8,548.8 284.9,550.9 278.7,553.7 284.9,556.5 278.7,559.3 284.9,562.1 278.7,564.9 281.8,567" fill="none" stroke="#3030ff" stroke-width="1.5" stroke-linejoin="round"/>
<line x1="281.8" y1="567" x2="281.8" y2="576" stroke="#5c5c5c" stroke-width="1.6"/>
<line x1="281.8" y1="576" x2="281.8" y2="605.8" stroke="#6464b8" stroke-width="1.6"/>
<line x1="281.8" y1="605.8" x2="281.8" y2="613.5" stroke="#5c5c5c" stroke-width="1.6"/>
<polyline points="281.8,613.5 284.9,615.59 278.7,618.37 284.9,621.16 278.7,623.94 284.9,626.73 278.7,629.51 281.8,631.6" fill="none" stroke="#3030ff" stroke-width="1.5" stroke-linejoin="round"/>
<line x1="281.8" y1="631.6" x2="281.8" y2="642" stroke="#5c5c5c" stroke-width="1.6"/>
<line x1="281.8" y1="642" x2="281.8" y2="651" stroke="#c07272" stroke-width="1.6"/>
<line x1="272" y1="651" x2="291.6" y2="651" stroke="#b35858" stroke-width="1.7"/>
<line x1="274.9" y1="654" x2="288.7" y2="654" stroke="#962a2a" stroke-width="1.4"/>
<line x1="277.7" y1="657" x2="285.9" y2="657" stroke="#962a2a" stroke-width="1.4"/>
<line x1="280.8" y1="659.8" x2="282.8" y2="659.8" stroke="#962a2a" stroke-width="1.2"/>
<text x="281.8" y="668.5" font-family='"Liberation Serif", serif' font-size="8.5" fill="#962a2a" stroke="#962a2a" stroke-width="0.4" text-anchor="middle" textLength="18.3" lengthAdjust="spacingAndGlyphs">GND</text>
<text x="291.2" y="556.3" font-family='"Liberation Sans", sans-serif' font-size="8.8" fill="#24248c" stroke="#24248c" stroke-width="0.55" textLength="11.1" lengthAdjust="spacingAndGlyphs">R3</text>
<text x="291.2" y="566.4" font-family='"Liberation Sans", sans-serif' font-size="8.3" fill="#24248c" stroke="#24248c" stroke-width="0.42" textLength="12.3" lengthAdjust="spacingAndGlyphs">10K</text>
<text x="291.2" y="621.5" font-family='"Liberation Sans", sans-serif' font-size="8.8" fill="#24248c" stroke="#24248c" stroke-width="0.55" textLength="11.2" lengthAdjust="spacingAndGlyphs">R4</text>
<text x="291.2" y="631.6" font-family='"Liberation Sans", sans-serif' font-size="8.3" fill="#24248c" stroke="#24248c" stroke-width="0.42" textLength="16" lengthAdjust="spacingAndGlyphs">100K</text>
<text x="291.2" y="640.3" font-family='"Liberation Sans", sans-serif' font-size="8.3" fill="#24248c" stroke="#24248c" stroke-width="0.42" textLength="14" lengthAdjust="spacingAndGlyphs">DNP</text>
<line x1="323.7" y1="530.7" x2="333.1" y2="530.7" stroke="#962a2a" stroke-width="1.1"/>
<text x="328.4" y="528.8" font-family='"Liberation Serif", serif' font-size="8.2" fill="#962a2a" stroke="#962a2a" stroke-width="0.4" text-anchor="middle" textLength="17.3" lengthAdjust="spacingAndGlyphs">VDD</text>
<line x1="328.4" y1="530.7" x2="328.4" y2="538.5" stroke="#c07272" stroke-width="1.6"/>
<line x1="328.4" y1="538.5" x2="328.4" y2="548.8" stroke="#5c5c5c" stroke-width="1.6"/>
<polyline points="328.4,548.8 331.5,550.9 325.3,553.7 331.5,556.5 325.3,559.3 331.5,562.1 325.3,564.9 328.4,567" fill="none" stroke="#3030ff" stroke-width="1.5" stroke-linejoin="round"/>
<line x1="328.4" y1="567" x2="328.4" y2="576" stroke="#5c5c5c" stroke-width="1.6"/>
<line x1="328.4" y1="576" x2="328.4" y2="605.8" stroke="#6464b8" stroke-width="1.6"/>
<line x1="328.4" y1="605.8" x2="328.4" y2="613.5" stroke="#5c5c5c" stroke-width="1.6"/>
<polyline points="328.4,613.5 331.5,615.59 325.3,618.37 331.5,621.16 325.3,623.94 331.5,626.73 325.3,629.51 328.4,631.6" fill="none" stroke="#3030ff" stroke-width="1.5" stroke-linejoin="round"/>
<line x1="328.4" y1="631.6" x2="328.4" y2="642" stroke="#5c5c5c" stroke-width="1.6"/>
<line x1="328.4" y1="642" x2="328.4" y2="651" stroke="#c07272" stroke-width="1.6"/>
<line x1="318.6" y1="651" x2="338.2" y2="651" stroke="#b35858" stroke-width="1.7"/>
<line x1="321.5" y1="654" x2="335.3" y2="654" stroke="#962a2a" stroke-width="1.4"/>
<line x1="324.3" y1="657" x2="332.5" y2="657" stroke="#962a2a" stroke-width="1.4"/>
<line x1="327.4" y1="659.8" x2="329.4" y2="659.8" stroke="#962a2a" stroke-width="1.2"/>
<text x="328.4" y="668.5" font-family='"Liberation Serif", serif' font-size="8.5" fill="#962a2a" stroke="#962a2a" stroke-width="0.4" text-anchor="middle" textLength="18.3" lengthAdjust="spacingAndGlyphs">GND</text>
<text x="337.8" y="556.3" font-family='"Liberation Sans", sans-serif' font-size="8.8" fill="#24248c" stroke="#24248c" stroke-width="0.55" textLength="11.1" lengthAdjust="spacingAndGlyphs">R1</text>
<text x="337.8" y="566.4" font-family='"Liberation Sans", sans-serif' font-size="8.3" fill="#24248c" stroke="#24248c" stroke-width="0.42" textLength="12.3" lengthAdjust="spacingAndGlyphs">10K</text>
<text x="337.8" y="621.5" font-family='"Liberation Sans", sans-serif' font-size="8.8" fill="#24248c" stroke="#24248c" stroke-width="0.55" textLength="11.2" lengthAdjust="spacingAndGlyphs">R2</text>
<text x="337.8" y="631.6" font-family='"Liberation Sans", sans-serif' font-size="8.3" fill="#24248c" stroke="#24248c" stroke-width="0.42" textLength="16" lengthAdjust="spacingAndGlyphs">100K</text>
<text x="337.8" y="640.3" font-family='"Liberation Sans", sans-serif' font-size="8.3" fill="#24248c" stroke="#24248c" stroke-width="0.42" textLength="14" lengthAdjust="spacingAndGlyphs">DNP</text>
<line x1="725.5" y1="91" x2="734.9" y2="91" stroke="#962a2a" stroke-width="1.1"/>
<text x="730.2" y="89.1" font-family='"Liberation Serif", serif' font-size="8.2" fill="#962a2a" stroke="#962a2a" stroke-width="0.4" text-anchor="middle" textLength="17.3" lengthAdjust="spacingAndGlyphs">VDD</text>
<line x1="730.2" y1="91" x2="730.2" y2="99.4" stroke="#c07272" stroke-width="1.6"/>
<line x1="730.2" y1="99.4" x2="730.2" y2="119.4" stroke="#6464b8" stroke-width="1.6"/>
<line x1="730.2" y1="119.4" x2="730.2" y2="128.2" stroke="#5c5c5c" stroke-width="1.6"/>
<polyline points="730.2,128.2 733.3,130.37 727.1,133.26 733.3,136.15 727.1,139.05 733.3,141.94 727.1,144.83 730.2,147" fill="none" stroke="#3030ff" stroke-width="1.5" stroke-linejoin="round"/>
<line x1="730.2" y1="147" x2="730.2" y2="156" stroke="#5c5c5c" stroke-width="1.6"/>
<line x1="730.2" y1="156" x2="730.2" y2="193.4" stroke="#6464b8" stroke-width="1.6"/>
<text x="735.2" y="135.5" font-family='"Liberation Sans", sans-serif' font-size="8.8" fill="#24248c" stroke="#24248c" stroke-width="0.55" textLength="11.1" lengthAdjust="spacingAndGlyphs">R5</text>
<text x="735.4" y="145.8" font-family='"Liberation Sans", sans-serif' font-size="8.3" fill="#24248c" stroke="#24248c" stroke-width="0.42" textLength="13.6" lengthAdjust="spacingAndGlyphs">1.2K</text>
<line x1="753.6" y1="91" x2="763" y2="91" stroke="#962a2a" stroke-width="1.1"/>
<text x="758.3" y="89.1" font-family='"Liberation Serif", serif' font-size="8.2" fill="#962a2a" stroke="#962a2a" stroke-width="0.4" text-anchor="middle" textLength="17.3" lengthAdjust="spacingAndGlyphs">VDD</text>
<line x1="758.3" y1="91" x2="758.3" y2="99.4" stroke="#c07272" stroke-width="1.6"/>
<line x1="758.3" y1="99.4" x2="758.3" y2="119.4" stroke="#6464b8" stroke-width="1.6"/>
<line x1="758.3" y1="119.4" x2="758.3" y2="128.2" stroke="#5c5c5c" stroke-width="1.6"/>
<polyline points="758.3,128.2 761.4,130.37 755.2,133.26 761.4,136.15 755.2,139.05 761.4,141.94 755.2,144.83 758.3,147" fill="none" stroke="#3030ff" stroke-width="1.5" stroke-linejoin="round"/>
<line x1="758.3" y1="147" x2="758.3" y2="156" stroke="#5c5c5c" stroke-width="1.6"/>
<line x1="758.3" y1="156" x2="758.3" y2="174.6" stroke="#6464b8" stroke-width="1.6"/>
<text x="763.3" y="135.5" font-family='"Liberation Sans", sans-serif' font-size="8.8" fill="#24248c" stroke="#24248c" stroke-width="0.55" textLength="11.1" lengthAdjust="spacingAndGlyphs">R6</text>
<text x="763.5" y="145.8" font-family='"Liberation Sans", sans-serif' font-size="8.3" fill="#24248c" stroke="#24248c" stroke-width="0.42" textLength="13.6" lengthAdjust="spacingAndGlyphs">1.2K</text>
<line x1="711.6" y1="174.6" x2="786.9" y2="174.6" stroke="#6464b8" stroke-width="1.6"/>
<line x1="711.6" y1="193.4" x2="786.9" y2="193.4" stroke="#6464b8" stroke-width="1.6"/>
<line x1="711.6" y1="212.2" x2="739.5" y2="212.2" stroke="#6464b8" stroke-width="1.6"/>
<line x1="711.6" y1="231" x2="739.5" y2="231" stroke="#6464b8" stroke-width="1.6"/>
<polygon points="791.9,169.8 842.8,169.8 842.8,179.4 791.9,179.4 786.9,174.6" fill="white" stroke="#bd7373" stroke-width="1.2"/>
<text x="795.8" y="177.9" font-family='"Liberation Serif", serif' font-size="8.9" fill="#962a2a" stroke="#962a2a" stroke-width="0.4" textLength="32.6" lengthAdjust="spacingAndGlyphs">I2C_SCL</text>
<polygon points="791.9,188.6 842.8,188.6 842.8,198.2 791.9,198.2 786.9,193.4" fill="white" stroke="#bd7373" stroke-width="1.2"/>
<text x="795.8" y="196.7" font-family='"Liberation Serif", serif' font-size="8.9" fill="#962a2a" stroke="#962a2a" stroke-width="0.4" textLength="32.6" lengthAdjust="spacingAndGlyphs">I2C_SDA</text>
<polygon points="739.5,207.4 837.8,207.4 842.8,212.2 837.8,217 739.5,217" fill="white" stroke="#bd7373" stroke-width="1.2"/>
<text x="749.9" y="215.5" font-family='"Liberation Serif", serif' font-size="8.9" fill="#962a2a" stroke="#962a2a" stroke-width="0.4" textLength="79" lengthAdjust="spacingAndGlyphs">PTA_WLAN_ACTIVE</text>
<polygon points="744.5,226.2 814.6,226.2 814.6,235.8 744.5,235.8 739.5,231" fill="white" stroke="#bd7373" stroke-width="1.2"/>
<text x="749.9" y="234.3" font-family='"Liberation Serif", serif' font-size="8.9" fill="#962a2a" stroke="#962a2a" stroke-width="0.4" textLength="53" lengthAdjust="spacingAndGlyphs">PTA_BT_PRIO</text>
<circle cx="730.4" cy="302" r="4.2" fill="#3030ff"/><circle cx="730.4" cy="302" r="1.25" fill="#fff"/>
<line x1="730.4" y1="306" x2="730.4" y2="314.8" stroke="#333" stroke-width="1.6"/>
<line x1="711.6" y1="314.8" x2="730.4" y2="314.8" stroke="#6464b8" stroke-width="1.6"/>
<text x="740.3" y="303.4" font-family='"Liberation Sans", sans-serif' font-size="8.8" fill="#24248c" stroke="#24248c" stroke-width="0.55" textLength="15.2" lengthAdjust="spacingAndGlyphs">TP1</text>
<text x="740.6" y="313.3" font-family='"Liberation Sans", sans-serif' font-size="8.3" fill="#24248c" stroke="#24248c" stroke-width="0.42" textLength="13.4" lengthAdjust="spacingAndGlyphs">1V5</text>
<line x1="711.6" y1="343" x2="739.3" y2="343" stroke="#6464b8" stroke-width="1.6"/>
<polygon points="739.3,338.2 800.3,338.2 805.3,343 800.3,347.8 739.3,347.8" fill="white" stroke="#bd7373" stroke-width="1.2"/>
<text x="749.1" y="346.3" font-family='"Liberation Serif", serif' font-size="8.9" fill="#962a2a" stroke="#962a2a" stroke-width="0.4" textLength="42.1" lengthAdjust="spacingAndGlyphs">UART2_TX</text>
<circle cx="487.2" cy="34.5" r="2.35" fill="#000080"/>
<circle cx="534" cy="34.5" r="2.35" fill="#000080"/>
<circle cx="534" cy="90.7" r="2.35" fill="#000080"/>
<circle cx="543" cy="530" r="2.35" fill="#000080"/>
<circle cx="552.4" cy="530" r="2.35" fill="#000080"/>
<circle cx="561.7" cy="530" r="2.35" fill="#000080"/>
<circle cx="244.2" cy="315" r="2.35" fill="#000080"/>
<circle cx="169.2" cy="399" r="2.35" fill="#000080"/>
<circle cx="169.2" cy="445.7" r="2.35" fill="#000080"/>
<circle cx="263" cy="445.7" r="2.35" fill="#000080"/>
<circle cx="281.8" cy="594.9" r="2.35" fill="#000080"/>
<circle cx="328.4" cy="585.8" r="2.35" fill="#000080"/>
<circle cx="730.2" cy="193.4" r="2.35" fill="#000080"/>
<circle cx="758.3" cy="174.6" r="2.35" fill="#000080"/>
</svg>
</body></html>
